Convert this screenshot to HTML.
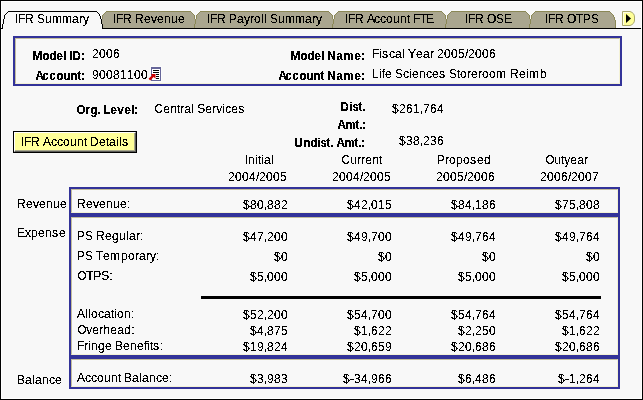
<!DOCTYPE html>
<html>
<head>
<meta charset="utf-8">
<title>IFR Summary</title>
<style>
html,body{margin:0;padding:0;}
body{width:643px;height:400px;overflow:hidden;background:#f8f8f8;position:relative;
  font-family:"Liberation Sans",sans-serif;font-size:12px;line-height:12px;color:#000;}
#frame{position:absolute;left:0;top:0;width:641px;height:398px;border:1px solid #000;box-shadow:inset 0 0 0 1px #fff;}
#txt,#txtb{position:absolute;left:0;top:0;width:643px;height:400px;filter:url(#crisp);}

.t{position:absolute;white-space:nowrap;line-height:12px;height:12px;}
.b{font-weight:bold;}
.t i{display:inline-block;font-style:normal;}
.w2{width:2px}.w3{width:3px}.w4{width:4px}.w5{width:5px}.w6{width:6px}.w7{width:7px}.w8{width:8px}.w9{width:9px}.w10{width:10px}.w11{width:11px}.w12{width:12px}
.r{text-align:right;}
.box{position:absolute;border:2px solid #333399;box-sizing:border-box;}
.box:after{content:"";position:absolute;left:0;top:0;right:0;bottom:0;border:1px solid;border-color:#c4be9c #f4f2d6 #f4f2d6 #c4be9c;}
#tabs{position:absolute;left:0;top:0;}
#btn{position:absolute;left:13px;top:131px;width:124px;height:22px;box-sizing:border-box;border:1px solid #000;background:#ffff99;}
#btn:before{content:"";position:absolute;left:0;top:0;right:0;bottom:0;border-top:1px solid #fff;border-left:1px solid #fff;border-right:1px solid #5c5c58;border-bottom:1px solid #5c5c58;}
#btn:after{content:"";position:absolute;left:1px;top:1px;right:1px;bottom:1px;border-right:1px solid #a9a98c;border-bottom:1px solid #a9a98c;}
#hr{position:absolute;left:201px;top:296px;width:400px;height:3px;background:#000;}
</style>
</head>
<body>
<div id="frame"></div>
<svg width="0" height="0" style="position:absolute"><defs>
<filter id="crisp" x="0" y="0" width="100%" height="100%" color-interpolation-filters="sRGB">
<feComponentTransfer><feFuncA type="discrete" tableValues="0 0 1 1 1"/></feComponentTransfer>
</filter>
<filter id="crispb" x="0" y="0" width="100%" height="100%" color-interpolation-filters="sRGB">
<feComponentTransfer><feFuncA type="discrete" tableValues="0 1 1 1"/></feComponentTransfer>
</filter></defs></svg>

<svg id="tabs" width="643" height="34" viewBox="0 0 643 34" shape-rendering="crispEdges">
<rect x="107" y="11" width="503" height="1" fill="#aaa68f"/>
<rect x="105" y="12" width="506" height="1" fill="#aaa68f"/>
<rect x="104" y="13" width="508" height="1" fill="#aaa68f"/>
<rect x="103" y="14" width="510" height="1" fill="#aaa68f"/>
<rect x="102" y="15" width="512" height="1" fill="#aaa68f"/>
<rect x="102" y="16" width="512" height="1" fill="#aaa68f"/>
<rect x="102" y="17" width="513" height="1" fill="#aaa68f"/>
<rect x="102" y="18" width="513" height="1" fill="#aaa68f"/>
<rect x="102" y="19" width="513" height="1" fill="#aaa68f"/>
<rect x="102" y="20" width="514" height="1" fill="#aaa68f"/>
<rect x="102" y="21" width="514" height="1" fill="#aaa68f"/>
<rect x="102" y="22" width="514" height="1" fill="#aaa68f"/>
<rect x="102" y="23" width="514" height="1" fill="#aaa68f"/>
<rect x="103" y="24" width="513" height="1" fill="#aaa68f"/>
<rect x="103" y="25" width="513" height="1" fill="#aaa68f"/>
<rect x="103" y="26" width="513" height="1" fill="#aaa68f"/>
<rect x="103" y="27" width="513" height="1" fill="#aaa68f"/>
<rect x="107" y="11" width="503" height="1" fill="#8b8856"/>
<rect x="106" y="11" width="1" height="1" fill="#8b8856"/>
<rect x="105" y="12" width="1" height="1" fill="#8b8856"/>
<rect x="104" y="13" width="1" height="1" fill="#8b8856"/>
<rect x="103" y="14" width="1" height="1" fill="#8b8856"/>
<rect x="102" y="15" width="1" height="1" fill="#8b8856"/>
<rect x="102" y="16" width="1" height="1" fill="#8b8856"/>
<rect x="102" y="17" width="1" height="1" fill="#8b8856"/>
<rect x="102" y="18" width="1" height="1" fill="#8b8856"/>
<rect x="610" y="12" width="1" height="1" fill="#8b8856"/>
<rect x="611" y="13" width="1" height="1" fill="#8b8856"/>
<rect x="612" y="14" width="1" height="1" fill="#8b8856"/>
<rect x="613" y="15" width="1" height="1" fill="#8b8856"/>
<rect x="613" y="16" width="1" height="1" fill="#8b8856"/>
<rect x="614" y="17" width="1" height="1" fill="#8b8856"/>
<rect x="614" y="18" width="1" height="1" fill="#8b8856"/>
<rect x="614" y="19" width="1" height="1" fill="#8b8856"/>
<rect x="615" y="20" width="1" height="1" fill="#8b8856"/>
<rect x="615" y="21" width="1" height="1" fill="#8b8856"/>
<rect x="615" y="22" width="1" height="1" fill="#8b8856"/>
<rect x="615" y="23" width="1" height="1" fill="#8b8856"/>
<rect x="615" y="24" width="1" height="1" fill="#8b8856"/>
<rect x="615" y="25" width="1" height="1" fill="#8b8856"/>
<rect x="615" y="26" width="1" height="1" fill="#8b8856"/>
<rect x="615" y="27" width="1" height="1" fill="#8b8856"/>
<rect x="191" y="11" width="9" height="1" fill="#f8f8f8"/>
<rect x="191" y="12" width="1" height="1" fill="#8b8856"/>
<rect x="192" y="12" width="7" height="1" fill="#f8f8f8"/>
<rect x="199" y="12" width="1" height="1" fill="#8b8856"/>
<rect x="192" y="13" width="1" height="1" fill="#8b8856"/>
<rect x="193" y="13" width="5" height="1" fill="#f8f8f8"/>
<rect x="198" y="13" width="1" height="1" fill="#8b8856"/>
<rect x="193" y="14" width="1" height="1" fill="#8b8856"/>
<rect x="194" y="14" width="3" height="1" fill="#f8f8f8"/>
<rect x="197" y="14" width="1" height="1" fill="#8b8856"/>
<rect x="194" y="15" width="1" height="4" fill="#8b8856"/>
<rect x="195" y="15" width="1" height="4" fill="#f8f8f8"/>
<rect x="196" y="15" width="1" height="4" fill="#8b8856"/>
<rect x="195" y="19" width="1" height="5" fill="#8b8856"/>
<rect x="194" y="24" width="1" height="4" fill="#8b8856"/>
<rect x="329" y="11" width="9" height="1" fill="#f8f8f8"/>
<rect x="329" y="12" width="1" height="1" fill="#8b8856"/>
<rect x="330" y="12" width="7" height="1" fill="#f8f8f8"/>
<rect x="337" y="12" width="1" height="1" fill="#8b8856"/>
<rect x="330" y="13" width="1" height="1" fill="#8b8856"/>
<rect x="331" y="13" width="5" height="1" fill="#f8f8f8"/>
<rect x="336" y="13" width="1" height="1" fill="#8b8856"/>
<rect x="331" y="14" width="1" height="1" fill="#8b8856"/>
<rect x="332" y="14" width="3" height="1" fill="#f8f8f8"/>
<rect x="335" y="14" width="1" height="1" fill="#8b8856"/>
<rect x="332" y="15" width="1" height="4" fill="#8b8856"/>
<rect x="333" y="15" width="1" height="4" fill="#f8f8f8"/>
<rect x="334" y="15" width="1" height="4" fill="#8b8856"/>
<rect x="333" y="19" width="1" height="5" fill="#8b8856"/>
<rect x="332" y="24" width="1" height="4" fill="#8b8856"/>
<rect x="442" y="11" width="9" height="1" fill="#f8f8f8"/>
<rect x="442" y="12" width="1" height="1" fill="#8b8856"/>
<rect x="443" y="12" width="7" height="1" fill="#f8f8f8"/>
<rect x="450" y="12" width="1" height="1" fill="#8b8856"/>
<rect x="443" y="13" width="1" height="1" fill="#8b8856"/>
<rect x="444" y="13" width="5" height="1" fill="#f8f8f8"/>
<rect x="449" y="13" width="1" height="1" fill="#8b8856"/>
<rect x="444" y="14" width="1" height="1" fill="#8b8856"/>
<rect x="445" y="14" width="3" height="1" fill="#f8f8f8"/>
<rect x="448" y="14" width="1" height="1" fill="#8b8856"/>
<rect x="445" y="15" width="1" height="4" fill="#8b8856"/>
<rect x="446" y="15" width="1" height="4" fill="#f8f8f8"/>
<rect x="447" y="15" width="1" height="4" fill="#8b8856"/>
<rect x="446" y="19" width="1" height="5" fill="#8b8856"/>
<rect x="445" y="24" width="1" height="4" fill="#8b8856"/>
<rect x="526" y="11" width="9" height="1" fill="#f8f8f8"/>
<rect x="526" y="12" width="1" height="1" fill="#8b8856"/>
<rect x="527" y="12" width="7" height="1" fill="#f8f8f8"/>
<rect x="534" y="12" width="1" height="1" fill="#8b8856"/>
<rect x="527" y="13" width="1" height="1" fill="#8b8856"/>
<rect x="528" y="13" width="5" height="1" fill="#f8f8f8"/>
<rect x="533" y="13" width="1" height="1" fill="#8b8856"/>
<rect x="528" y="14" width="1" height="1" fill="#8b8856"/>
<rect x="529" y="14" width="3" height="1" fill="#f8f8f8"/>
<rect x="532" y="14" width="1" height="1" fill="#8b8856"/>
<rect x="529" y="15" width="1" height="4" fill="#8b8856"/>
<rect x="530" y="15" width="1" height="4" fill="#f8f8f8"/>
<rect x="531" y="15" width="1" height="4" fill="#8b8856"/>
<rect x="530" y="19" width="1" height="5" fill="#8b8856"/>
<rect x="529" y="24" width="1" height="4" fill="#8b8856"/>
<rect x="102" y="28" width="539" height="1" fill="#000"/>
<rect x="8" y="11" width="89" height="1" fill="#000"/>
<rect x="7" y="12" width="1" height="1" fill="#000"/>
<rect x="6" y="13" width="1" height="1" fill="#000"/>
<rect x="5" y="14" width="1" height="1" fill="#000"/>
<rect x="4" y="15" width="1" height="4" fill="#000"/>
<rect x="3" y="19" width="1" height="5" fill="#000"/>
<rect x="2" y="24" width="1" height="5" fill="#000"/>
<rect x="1" y="28" width="1" height="1" fill="#000"/>
<rect x="97" y="12" width="1" height="1" fill="#000"/>
<rect x="98" y="13" width="1" height="1" fill="#000"/>
<rect x="99" y="14" width="1" height="2" fill="#000"/>
<rect x="100" y="16" width="1" height="3" fill="#000"/>
<rect x="101" y="19" width="1" height="5" fill="#000"/>
<rect x="102" y="24" width="1" height="5" fill="#000"/>
<path d="M622.5 11.5 L630 11.5 Q634.5 13 634.5 17 L634.5 20 Q634.5 24 630 25.5 L622.5 25.5 Z" fill="#ffff99" stroke="#a9a76c" stroke-width="1" shape-rendering="auto"/>
<path d="M623.5 25 L623.5 12.5 L630 12.5" fill="none" stroke="#ffffe8" stroke-width="1"/>
<path d="M626 14 L631 18.5 L626 23 Z" fill="#000" shape-rendering="auto"/>
</svg>


<!-- header box -->
<div class="box" style="left:13px;top:36px;width:609px;height:50px;"></div>
<svg class="ico" style="position:absolute;left:148px;top:66px;" width="15" height="16" viewBox="0 0 15 16" shape-rendering="crispEdges">
  <rect x="2" y="0" width="12" height="16" fill="#fcfcfc"/>
  <rect x="3" y="1" width="10" height="14" fill="#666699"/>
  <rect x="4" y="3" width="8" height="11" fill="#fff"/>
  <rect x="5" y="4" width="6" height="1" fill="#000"/>
  <rect x="5" y="6" width="6" height="1" fill="#000"/>
  <rect x="8" y="8" width="3" height="1" fill="#000"/>
  <rect x="8" y="10" width="3" height="1" fill="#000"/>
  <rect x="8" y="12" width="3" height="1" fill="#000"/>
  <path d="M1.4 13.6 L5.5 9.5" stroke="#cc0000" stroke-width="2.4" fill="none" shape-rendering="auto"/>
  <path d="M2.8 8 L7.5 8 L7.5 12.7 Z" fill="#cc0000" shape-rendering="auto"/>
</svg>

<!-- org level / amounts -->

<div id="btn"></div>

<!-- column headers -->

<!-- data boxes -->
<div class="box" style="left:69px;top:187px;width:551px;height:28px;"></div>
<div class="box" style="left:69px;top:215px;width:551px;height:142px;"></div>
<div class="box" style="left:69px;top:357px;width:551px;height:32px;"></div>






<div id="hr"></div>





<div id="txt">
<div class="t" style="left:15px;top:13px"><i class="w3">I</i><i class="w7">F</i><i class="w9">R</i><i class="w3">&nbsp;</i><i class="w8">S</i><i class="w7">u</i><i class="w10">m</i><i class="w10">m</i><i class="w7">a</i><i class="w4">r</i><i class="w6">y</i></div>
<div class="t" style="left:113px;top:13px"><i class="w3">I</i><i class="w7">F</i><i class="w9">R</i><i class="w3">&nbsp;</i><i class="w9">R</i><i class="w7">e</i><i class="w6">v</i><i class="w7">e</i><i class="w7">n</i><i class="w7">u</i><i class="w7">e</i></div>
<div class="t" style="left:207px;top:13px"><i class="w3">I</i><i class="w7">F</i><i class="w9">R</i><i class="w3">&nbsp;</i><i class="w8">P</i><i class="w7">a</i><i class="w6">y</i><i class="w4">r</i><i class="w7">o</i><i class="w3">l</i><i class="w3">l</i><i class="w3">&nbsp;</i><i class="w8">S</i><i class="w7">u</i><i class="w10">m</i><i class="w10">m</i><i class="w7">a</i><i class="w4">r</i><i class="w6">y</i></div>
<div class="t" style="left:345px;top:13px"><i class="w3">I</i><i class="w7">F</i><i class="w9">R</i><i class="w3">&nbsp;</i><i class="w7">A</i><i class="w6">c</i><i class="w6">c</i><i class="w7">o</i><i class="w7">u</i><i class="w7">n</i><i class="w3">t</i><i class="w3">&nbsp;</i><i class="w7">F</i><i class="w6">T</i><i class="w8">E</i></div>
<div class="t" style="left:465px;top:13px"><i class="w3">I</i><i class="w7">F</i><i class="w9">R</i><i class="w3">&nbsp;</i><i class="w9">O</i><i class="w8">S</i><i class="w8">E</i></div>
<div class="t" style="left:545px;top:13px"><i class="w3">I</i><i class="w7">F</i><i class="w9">R</i><i class="w3">&nbsp;</i><i class="w9">O</i><i class="w7">T</i><i class="w8">P</i><i class="w8">S</i></div>
<div class="t" style="left:92px;top:48px"><i class="w7">2</i><i class="w7">0</i><i class="w7">0</i><i class="w7">6</i></div>
<div class="t" style="left:92px;top:69px"><i class="w7">9</i><i class="w7">0</i><i class="w7">0</i><i class="w7">8</i><i class="w7">1</i><i class="w7">1</i><i class="w7">0</i><i class="w7">0</i></div>
<div class="t" style="left:372px;top:48px"><i class="w7">F</i><i class="w3">i</i><i class="w7">s</i><i class="w6">c</i><i class="w7">a</i><i class="w3">l</i><i class="w3">&nbsp;</i><i class="w8">Y</i><i class="w7">e</i><i class="w7">a</i><i class="w4">r</i><i class="w3">&nbsp;</i><i class="w7">2</i><i class="w7">0</i><i class="w7">0</i><i class="w7">5</i><i class="w3">/</i><i class="w7">2</i><i class="w7">0</i><i class="w7">0</i><i class="w7">6</i></div>
<div class="t" style="left:372px;top:68px"><i class="w7">L</i><i class="w3">i</i><i class="w3">f</i><i class="w7">e</i><i class="w3">&nbsp;</i><i class="w8">S</i><i class="w6">c</i><i class="w3">i</i><i class="w7">e</i><i class="w7">n</i><i class="w6">c</i><i class="w7">e</i><i class="w7">s</i><i class="w3">&nbsp;</i><i class="w8">S</i><i class="w3">t</i><i class="w7">o</i><i class="w4">r</i><i class="w7">e</i><i class="w4">r</i><i class="w7">o</i><i class="w7">o</i><i class="w11">m</i><i class="w3">&nbsp;</i><i class="w9">R</i><i class="w7">e</i><i class="w3">i</i><i class="w11">m</i><i class="w7">b</i></div>
<div class="t" style="left:154.25px;top:103px"><i class="w9">C</i><i class="w7">e</i><i class="w7">n</i><i class="w3">t</i><i class="w4">r</i><i class="w7">a</i><i class="w3">l</i><i class="w3">&nbsp;</i><i class="w8">S</i><i class="w7">e</i><i class="w4">r</i><i class="w6">v</i><i class="w3">i</i><i class="w6">c</i><i class="w7">e</i><i class="w7">s</i></div>
<div class="t" style="left:392px;top:103px"><i class="w7">$</i><i class="w7">2</i><i class="w7">6</i><i class="w7">1</i><i class="w3">,</i><i class="w7">7</i><i class="w7">6</i><i class="w7">4</i></div>
<div class="t" style="left:399px;top:135px"><i class="w7">$</i><i class="w7">3</i><i class="w7">8</i><i class="w3">,</i><i class="w7">2</i><i class="w7">3</i><i class="w7">6</i></div>
<div class="t" style="left:21px;top:136px"><i class="w3">I</i><i class="w7">F</i><i class="w9">R</i><i class="w3">&nbsp;</i><i class="w8">A</i><i class="w6">c</i><i class="w6">c</i><i class="w7">o</i><i class="w7">u</i><i class="w7">n</i><i class="w3">t</i><i class="w3">&nbsp;</i><i class="w9">D</i><i class="w7">e</i><i class="w3">t</i><i class="w7">a</i><i class="w3">i</i><i class="w3">l</i><i class="w7">s</i></div>
<div class="t" style="left:245px;top:154px"><i class="w3">I</i><i class="w7">n</i><i class="w3">i</i><i class="w3">t</i><i class="w3">i</i><i class="w7">a</i><i class="w3">l</i></div>
<div class="t" style="left:228px;top:171px"><i class="w7">2</i><i class="w7">0</i><i class="w7">0</i><i class="w7">4</i><i class="w3">/</i><i class="w7">2</i><i class="w7">0</i><i class="w7">0</i><i class="w7">5</i></div>
<div class="t" style="left:341.25px;top:154px"><i class="w9">C</i><i class="w7">u</i><i class="w4">r</i><i class="w4">r</i><i class="w7">e</i><i class="w7">n</i><i class="w3">t</i></div>
<div class="t" style="left:332px;top:171px"><i class="w7">2</i><i class="w7">0</i><i class="w7">0</i><i class="w7">4</i><i class="w3">/</i><i class="w7">2</i><i class="w7">0</i><i class="w7">0</i><i class="w7">5</i></div>
<div class="t" style="left:437px;top:154px"><i class="w8">P</i><i class="w4">r</i><i class="w7">o</i><i class="w7">p</i><i class="w7">o</i><i class="w7">s</i><i class="w7">e</i><i class="w7">d</i></div>
<div class="t" style="left:436px;top:171px"><i class="w7">2</i><i class="w7">0</i><i class="w7">0</i><i class="w7">5</i><i class="w3">/</i><i class="w7">2</i><i class="w7">0</i><i class="w7">0</i><i class="w7">6</i></div>
<div class="t" style="left:545.25px;top:154px"><i class="w9">O</i><i class="w7">u</i><i class="w3">t</i><i class="w6">y</i><i class="w7">e</i><i class="w7">a</i><i class="w4">r</i></div>
<div class="t" style="left:540px;top:171px"><i class="w7">2</i><i class="w7">0</i><i class="w7">0</i><i class="w7">6</i><i class="w3">/</i><i class="w7">2</i><i class="w7">0</i><i class="w7">0</i><i class="w7">7</i></div>
<div class="t" style="left:17px;top:198px"><i class="w9">R</i><i class="w7">e</i><i class="w6">v</i><i class="w7">e</i><i class="w7">n</i><i class="w7">u</i><i class="w7">e</i></div>
<div class="t" style="left:17px;top:227px"><i class="w8">E</i><i class="w6">x</i><i class="w7">p</i><i class="w7">e</i><i class="w7">n</i><i class="w7">s</i><i class="w7">e</i></div>
<div class="t" style="left:17px;top:374px"><i class="w8">B</i><i class="w7">a</i><i class="w3">l</i><i class="w7">a</i><i class="w7">n</i><i class="w6">c</i><i class="w7">e</i></div>
<div class="t" style="left:77px;top:198px"><i class="w9">R</i><i class="w7">e</i><i class="w6">v</i><i class="w7">e</i><i class="w7">n</i><i class="w7">u</i><i class="w7">e</i><i class="w3">:</i></div>
<div class="t" style="left:77px;top:230px"><i class="w8">P</i><i class="w8">S</i><i class="w3">&nbsp;</i><i class="w9">R</i><i class="w7">e</i><i class="w7">g</i><i class="w7">u</i><i class="w3">l</i><i class="w7">a</i><i class="w4">r</i><i class="w3">:</i></div>
<div class="t" style="left:77px;top:250px"><i class="w8">P</i><i class="w8">S</i><i class="w3">&nbsp;</i><i class="w7">T</i><i class="w7">e</i><i class="w11">m</i><i class="w7">p</i><i class="w7">o</i><i class="w4">r</i><i class="w7">a</i><i class="w4">r</i><i class="w6">y</i><i class="w3">:</i></div>
<div class="t" style="left:77.25px;top:270px"><i class="w9">O</i><i class="w7">T</i><i class="w8">P</i><i class="w8">S</i><i class="w3">:</i></div>
<div class="t" style="left:77px;top:308px"><i class="w8">A</i><i class="w3">l</i><i class="w3">l</i><i class="w7">o</i><i class="w6">c</i><i class="w7">a</i><i class="w3">t</i><i class="w3">i</i><i class="w7">o</i><i class="w7">n</i><i class="w3">:</i></div>
<div class="t" style="left:77.25px;top:324px"><i class="w9">O</i><i class="w6">v</i><i class="w7">e</i><i class="w4">r</i><i class="w7">h</i><i class="w7">e</i><i class="w7">a</i><i class="w7">d</i><i class="w3">:</i></div>
<div class="t" style="left:77px;top:340px"><i class="w7">F</i><i class="w4">r</i><i class="w3">i</i><i class="w7">n</i><i class="w7">g</i><i class="w7">e</i><i class="w3">&nbsp;</i><i class="w8">B</i><i class="w7">e</i><i class="w7">n</i><i class="w7">e</i><i class="w3">f</i><i class="w3">i</i><i class="w3">t</i><i class="w7">s</i><i class="w3">:</i></div>
<div class="t" style="left:77px;top:372px"><i class="w8">A</i><i class="w6">c</i><i class="w6">c</i><i class="w7">o</i><i class="w7">u</i><i class="w7">n</i><i class="w3">t</i><i class="w3">&nbsp;</i><i class="w8">B</i><i class="w7">a</i><i class="w3">l</i><i class="w7">a</i><i class="w7">n</i><i class="w6">c</i><i class="w7">e</i><i class="w3">:</i></div>
<div class="t" style="left:243px;top:199px"><i class="w7">$</i><i class="w7">8</i><i class="w7">0</i><i class="w3">,</i><i class="w7">8</i><i class="w7">8</i><i class="w7">2</i></div>
<div class="t" style="left:347px;top:199px"><i class="w7">$</i><i class="w7">4</i><i class="w7">2</i><i class="w3">,</i><i class="w7">0</i><i class="w7">1</i><i class="w7">5</i></div>
<div class="t" style="left:451px;top:199px"><i class="w7">$</i><i class="w7">8</i><i class="w7">4</i><i class="w3">,</i><i class="w7">1</i><i class="w7">8</i><i class="w7">6</i></div>
<div class="t" style="left:555px;top:199px"><i class="w7">$</i><i class="w7">7</i><i class="w7">5</i><i class="w3">,</i><i class="w7">8</i><i class="w7">0</i><i class="w7">8</i></div>
<div class="t" style="left:243px;top:231px"><i class="w7">$</i><i class="w7">4</i><i class="w7">7</i><i class="w3">,</i><i class="w7">2</i><i class="w7">0</i><i class="w7">0</i></div>
<div class="t" style="left:347px;top:231px"><i class="w7">$</i><i class="w7">4</i><i class="w7">9</i><i class="w3">,</i><i class="w7">7</i><i class="w7">0</i><i class="w7">0</i></div>
<div class="t" style="left:451px;top:231px"><i class="w7">$</i><i class="w7">4</i><i class="w7">9</i><i class="w3">,</i><i class="w7">7</i><i class="w7">6</i><i class="w7">4</i></div>
<div class="t" style="left:555px;top:231px"><i class="w7">$</i><i class="w7">4</i><i class="w7">9</i><i class="w3">,</i><i class="w7">7</i><i class="w7">6</i><i class="w7">4</i></div>
<div class="t" style="left:274px;top:251px"><i class="w7">$</i><i class="w7">0</i></div>
<div class="t" style="left:378px;top:251px"><i class="w7">$</i><i class="w7">0</i></div>
<div class="t" style="left:482px;top:251px"><i class="w7">$</i><i class="w7">0</i></div>
<div class="t" style="left:586px;top:251px"><i class="w7">$</i><i class="w7">0</i></div>
<div class="t" style="left:250px;top:271px"><i class="w7">$</i><i class="w7">5</i><i class="w3">,</i><i class="w7">0</i><i class="w7">0</i><i class="w7">0</i></div>
<div class="t" style="left:354px;top:271px"><i class="w7">$</i><i class="w7">5</i><i class="w3">,</i><i class="w7">0</i><i class="w7">0</i><i class="w7">0</i></div>
<div class="t" style="left:458px;top:271px"><i class="w7">$</i><i class="w7">5</i><i class="w3">,</i><i class="w7">0</i><i class="w7">0</i><i class="w7">0</i></div>
<div class="t" style="left:562px;top:271px"><i class="w7">$</i><i class="w7">5</i><i class="w3">,</i><i class="w7">0</i><i class="w7">0</i><i class="w7">0</i></div>
<div class="t" style="left:243px;top:309px"><i class="w7">$</i><i class="w7">5</i><i class="w7">2</i><i class="w3">,</i><i class="w7">2</i><i class="w7">0</i><i class="w7">0</i></div>
<div class="t" style="left:347px;top:309px"><i class="w7">$</i><i class="w7">5</i><i class="w7">4</i><i class="w3">,</i><i class="w7">7</i><i class="w7">0</i><i class="w7">0</i></div>
<div class="t" style="left:451px;top:309px"><i class="w7">$</i><i class="w7">5</i><i class="w7">4</i><i class="w3">,</i><i class="w7">7</i><i class="w7">6</i><i class="w7">4</i></div>
<div class="t" style="left:555px;top:309px"><i class="w7">$</i><i class="w7">5</i><i class="w7">4</i><i class="w3">,</i><i class="w7">7</i><i class="w7">6</i><i class="w7">4</i></div>
<div class="t" style="left:250px;top:325px"><i class="w7">$</i><i class="w7">4</i><i class="w3">,</i><i class="w7">8</i><i class="w7">7</i><i class="w7">5</i></div>
<div class="t" style="left:354px;top:325px"><i class="w7">$</i><i class="w7">1</i><i class="w3">,</i><i class="w7">6</i><i class="w7">2</i><i class="w7">2</i></div>
<div class="t" style="left:458px;top:325px"><i class="w7">$</i><i class="w7">2</i><i class="w3">,</i><i class="w7">2</i><i class="w7">5</i><i class="w7">0</i></div>
<div class="t" style="left:562px;top:325px"><i class="w7">$</i><i class="w7">1</i><i class="w3">,</i><i class="w7">6</i><i class="w7">2</i><i class="w7">2</i></div>
<div class="t" style="left:243px;top:341px"><i class="w7">$</i><i class="w7">1</i><i class="w7">9</i><i class="w3">,</i><i class="w7">8</i><i class="w7">2</i><i class="w7">4</i></div>
<div class="t" style="left:347px;top:341px"><i class="w7">$</i><i class="w7">2</i><i class="w7">0</i><i class="w3">,</i><i class="w7">6</i><i class="w7">5</i><i class="w7">9</i></div>
<div class="t" style="left:451px;top:341px"><i class="w7">$</i><i class="w7">2</i><i class="w7">0</i><i class="w3">,</i><i class="w7">6</i><i class="w7">8</i><i class="w7">6</i></div>
<div class="t" style="left:555px;top:341px"><i class="w7">$</i><i class="w7">2</i><i class="w7">0</i><i class="w3">,</i><i class="w7">6</i><i class="w7">8</i><i class="w7">6</i></div>
<div class="t" style="left:250px;top:373px"><i class="w7">$</i><i class="w7">3</i><i class="w3">,</i><i class="w7">9</i><i class="w7">8</i><i class="w7">3</i></div>
<div class="t" style="left:343px;top:373px"><i class="w7">$</i><i class="w4">-</i><i class="w7">3</i><i class="w7">4</i><i class="w3">,</i><i class="w7">9</i><i class="w7">6</i><i class="w7">6</i></div>
<div class="t" style="left:458px;top:373px"><i class="w7">$</i><i class="w7">6</i><i class="w3">,</i><i class="w7">4</i><i class="w7">8</i><i class="w7">6</i></div>
<div class="t" style="left:558px;top:373px"><i class="w7">$</i><i class="w4">-</i><i class="w7">1</i><i class="w3">,</i><i class="w7">2</i><i class="w7">6</i><i class="w7">4</i></div>
</div>
<div id="txtb">
<div class="t b" style="left:32.25px;top:50px"><i class="w10">M</i><i class="w7">o</i><i class="w7">d</i><i class="w7">e</i><i class="w3">l</i><i class="w3">&nbsp;</i><i class="w3">I</i><i class="w9">D</i><i class="w4">:</i></div>
<div class="t b" style="left:35.25px;top:70px"><i class="w7">A</i><i class="w7">c</i><i class="w7">c</i><i class="w7">o</i><i class="w7">u</i><i class="w7">n</i><i class="w4">t</i><i class="w4">:</i></div>
<div class="t b" style="left:290.25px;top:50px"><i class="w10">M</i><i class="w7">o</i><i class="w7">d</i><i class="w7">e</i><i class="w3">l</i><i class="w3">&nbsp;</i><i class="w9">N</i><i class="w7">a</i><i class="w11">m</i><i class="w7">e</i><i class="w4">:</i></div>
<div class="t b" style="left:278.25px;top:70px"><i class="w7">A</i><i class="w7">c</i><i class="w7">c</i><i class="w7">o</i><i class="w7">u</i><i class="w7">n</i><i class="w4">t</i><i class="w3">&nbsp;</i><i class="w9">N</i><i class="w7">a</i><i class="w11">m</i><i class="w7">e</i><i class="w4">:</i></div>
<div class="t b" style="left:76.25px;top:104px"><i class="w9">O</i><i class="w5">r</i><i class="w7">g</i><i class="w3">.</i><i class="w3">&nbsp;</i><i class="w7">L</i><i class="w7">e</i><i class="w7">v</i><i class="w7">e</i><i class="w3">l</i><i class="w4">:</i></div>
<div class="t b" style="left:340.25px;top:101px"><i class="w9">D</i><i class="w3">i</i><i class="w6">s</i><i class="w4">t</i><i class="w2">.</i></div>
<div class="t b" style="left:337.25px;top:119px"><i class="w8">A</i><i class="w10">m</i><i class="w4">t</i><i class="w3">.</i><i class="w4">:</i></div>
<div class="t b" style="left:294.25px;top:137px"><i class="w9">U</i><i class="w7">n</i><i class="w7">d</i><i class="w3">i</i><i class="w6">s</i><i class="w4">t</i><i class="w2">.</i><i class="w4">&nbsp;</i><i class="w8">A</i><i class="w10">m</i><i class="w4">t</i><i class="w3">.</i><i class="w4">:</i></div>
</div>
</body>
</html>
